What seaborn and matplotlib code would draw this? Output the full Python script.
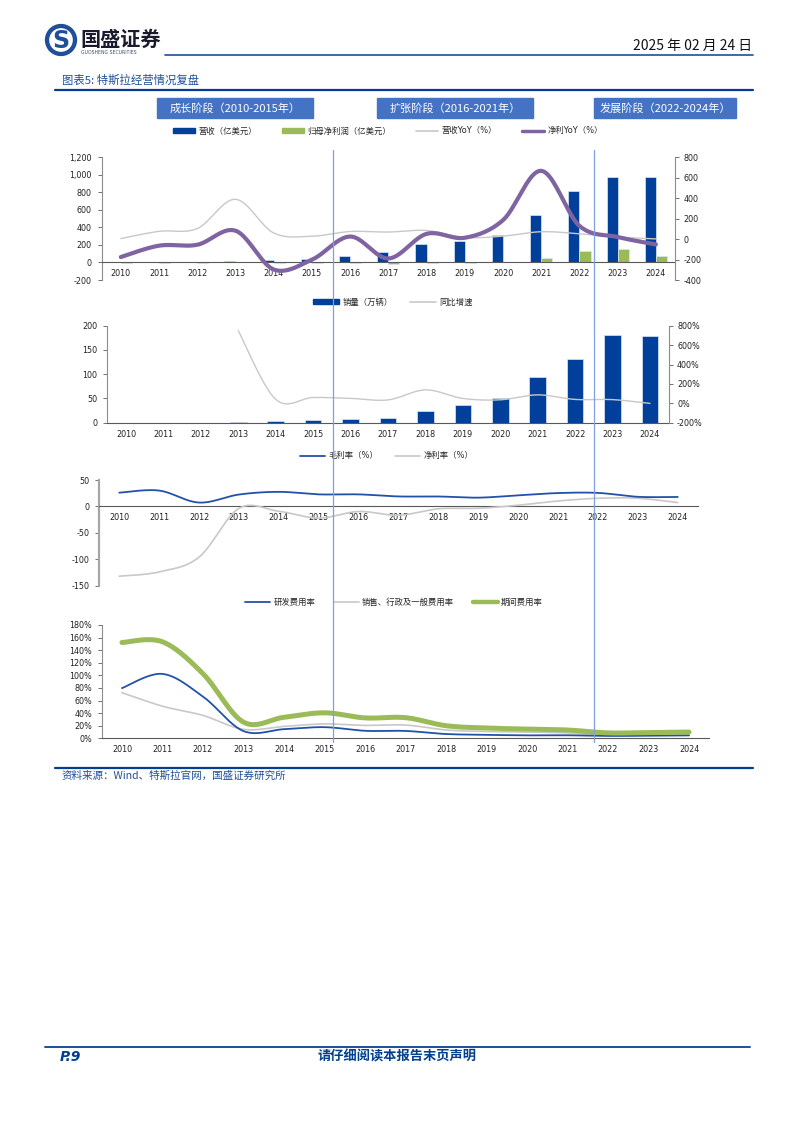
import numpy as np
import pandas as pd
import matplotlib
matplotlib.use('Agg')
import matplotlib.pyplot as plt
import seaborn as sns
from matplotlib.patches import Rectangle, Circle, Patch
from matplotlib.lines import Line2D

# Data
years = [str(y) for y in range(2010, 2025)]

revenue = [1.2, 2.0, 4.1, 20.1, 32.0, 40.5, 70.0, 117.6, 214.6, 245.8, 315.4, 538.2, 814.6, 967.7, 976.9]
net_profit = [-1.5, -2.5, -4.0, -0.7, -2.9, -8.9, -6.8, -19.6, -9.8, -8.6, 7.2, 55.2, 125.6, 150.0, 70.9]
revenue_yoy = [4, 75, 102, 387, 59, 27, 73, 68, 83, 15, 28, 71, 51, 19, 1]
profit_yoy = [-176, -65, -56, 81, -297, -202, 24, -190, 50, 12, 184, 665, 128, 19, -53]

sales = [np.nan, np.nan, 0.27, 2.25, 3.17, 5.06, 7.62, 10.30, 24.52, 36.75, 49.96, 93.62, 131.39, 180.86, 178.92]
sales_yoy = [np.nan, np.nan, np.nan, 748, 41, 60, 51, 35, 138, 50, 36, 87, 40, 38, -1]

gross_margin = [26.0, 30.0, 7.3, 22.5, 27.6, 22.8, 22.8, 18.9, 18.8, 16.6, 21.0, 25.3, 25.6, 18.2, 17.9]
net_margin = [-132, -124, -96, -3.7, -9.2, -22.0, -9.6, -16.7, -4.5, -3.5, 2.3, 10.3, 15.4, 15.5, 7.3]

rd_rate = [79.7, 102.3, 66.3, 11.5, 14.5, 17.7, 11.9, 11.7, 6.8, 5.5, 4.7, 4.8, 3.8, 4.1, 4.6]
sga_rate = [72.5, 51.0, 36.4, 14.2, 18.9, 22.8, 20.5, 21.1, 13.2, 10.8, 10.0, 8.4, 4.8, 5.0, 5.3]
period_rate = [152.2, 153.3, 102.7, 25.7, 33.4, 40.5, 32.4, 32.8, 20.0, 16.3, 14.7, 13.2, 8.6, 9.1, 9.9]

phases = ['成长阶段（2010-2015年）', '扩张阶段（2016-2021年）', '发展阶段（2022-2024年）']

# Colours
BLUE = '#00409A'
GREEN = '#9BBB59'
GRAY = '#C8C8C8'
PURPLE = '#8064A2'
LINE_BLUE = '#2152A8'
NAVY = '#1F4E9A'
AXIS = '#595959'

sns.set_theme(style='white')
plt.rcParams['font.family'] = ['DejaVu Sans', 'Noto Sans CJK SC']
plt.rcParams['axes.unicode_minus'] = False

W, H = 794, 1123


def rect(l, t, r, b):
    return [l / W, 1 - b / H, (r - l) / W, (b - t) / H]


def fx(x):
    return x / W


def fy(y):
    return 1 - y / H


def smooth(xs, ys, n=24):
    # Excel-style smoothed line: cubic Bezier through every point
    pts = np.column_stack([xs, ys]).astype(float)
    out = []
    for i in range(len(pts) - 1):
        p0 = pts[max(i - 1, 0)]
        p1 = pts[i]
        p2 = pts[i + 1]
        p3 = pts[min(i + 2, len(pts) - 1)]
        c1 = p1 + (p2 - p0) / 6
        c2 = p2 - (p3 - p1) / 6
        t = np.linspace(0, 1, n)[:, None]
        seg = (1 - t) ** 3 * p1 + 3 * (1 - t) ** 2 * t * c1 + 3 * (1 - t) * t ** 2 * c2 + t ** 3 * p2
        out.append(seg if i == 0 else seg[1:])
    arr = np.vstack(out)
    return arr[:, 0], arr[:, 1]


def draw_line(ax, values, color, lw, zorder=3):
    x = np.array([i for i, v in enumerate(values) if not np.isnan(v)])
    y = np.array([v for v in values if not np.isnan(v)])
    sx, sy = smooth(x, y)
    sns.lineplot(x=sx, y=sy, ax=ax, color=color, lw=lw, sort=False,
                 estimator=None, legend=False, zorder=zorder)


def style_x(ax, zero_spine=True):
    n = len(years)
    ax.set_xlim(-0.5, n - 0.5)
    ax.set_xticks(range(n))
    ax.set_xticklabels(years)
    ax.set_xticks(np.arange(-0.5, n), minor=True)
    ax.tick_params(axis='x', which='major', length=0, pad=5, labelsize=5.8, labelcolor='#222222')
    ax.tick_params(axis='x', which='minor', length=3, width=0.6, color=AXIS, direction='out')
    ax.set_xlabel('')
    if zero_spine:
        ax.spines['bottom'].set_position(('data', 0))
    ax.spines['bottom'].set_color(AXIS)
    ax.spines['bottom'].set_linewidth(0.8)
    ax.spines['top'].set_visible(False)
    ax.spines['right'].set_visible(False)


def style_left(ax, lw=0.8, color='#8C8C8C'):
    ax.spines['left'].set_color(color)
    ax.spines['left'].set_linewidth(lw)
    ax.tick_params(axis='y', which='major', left=True, length=3, width=0.6, color=AXIS,
                   direction='out', pad=4, labelsize=5.8, labelcolor='#222222')
    ax.set_ylabel('')


def style_right(ax):
    for s in ['top', 'left', 'bottom']:
        ax.spines[s].set_visible(False)
    ax.spines['right'].set_color('#8C8C8C')
    ax.spines['right'].set_linewidth(0.8)
    ax.tick_params(axis='y', which='major', right=True, length=3, width=0.6, color=AXIS,
                   direction='out', pad=3, labelsize=5.8, labelcolor='#222222')
    ax.set_ylabel('')
    ax.grid(False)


fig = plt.figure(figsize=(W / 100, H / 100), dpi=100)

# ---------------- Header ----------------
logo = fig.add_axes(rect(44, 23, 78, 57))
logo.set_xlim(-1.1, 1.1)
logo.set_ylim(-1.1, 1.1)
logo.set_aspect('equal')
logo.axis('off')
logo.add_patch(Circle((0, 0), 1.0, color=NAVY))
logo.add_patch(Circle((0, 0), 0.72, color='white'))
logo.text(0, -0.05, 'S', color=NAVY, fontsize=17, fontweight='bold', ha='center', va='center')

fig.text(fx(80), fy(39), '国盛证券', fontsize=14.5, fontweight='bold', color='#1A1A2E',
         family=['Noto Sans CJK SC'], va='center', ha='left')
fig.text(fx(81), fy(53), 'GUOSHENG SECURITIES', fontsize=3.3, color='#3A4A6A', va='center', ha='left')
fig.text(fx(752), fy(46), '2025 年 02 月 24 日', fontsize=10, color='#111111',
         family=['Noto Sans CJK SC'], ha='right', va='center')
fig.add_artist(Line2D([fx(165), fx(753)], [fy(55), fy(55)], color=NAVY, lw=1.2))

fig.text(fx(62), fy(80), '图表5: 特斯拉经营情况复盘', fontsize=8.2, color=NAVY, style='italic',
         family=['Noto Sans CJK SC', 'DejaVu Sans'], ha='left', va='center')
fig.add_artist(Line2D([fx(55), fx(753)], [fy(89.5), fy(89.5)], color='#003F8F', lw=1.6))

# phase boxes
for (l, r), label in zip([(157, 313), (377, 533), (594, 736)], phases):
    fig.add_artist(Rectangle((fx(l), fy(118)), fx(r) - fx(l), fy(98) - fy(118),
                             transform=fig.transFigure, color='#4472C4', zorder=5))
    fig.text(fx((l + r) / 2), fy(108), label, color='white', fontsize=8, ha='center', va='center',
             family=['Noto Sans CJK SC'], zorder=6)

# ---------------- Chart 1: revenue / net profit ----------------
ax1 = fig.add_axes(rect(101.7, 157, 675, 280))
df1 = pd.DataFrame({
    'year': years * 2,
    'series': ['营收（亿美元）'] * len(years) + ['归母净利润（亿美元）'] * len(years),
    'value': revenue + net_profit,
})
sns.barplot(data=df1, x='year', y='value', hue='series', order=years, palette=[BLUE, GREEN],
            width=0.58, saturation=1, edgecolor='#DDE6F3', linewidth=0.5, ax=ax1, legend=False)
ax1.set_ylim(-200, 1200)
ax1.set_yticks(range(-200, 1201, 200))
ax1.set_yticklabels([f'{v:,}' for v in range(-200, 1201, 200)])
style_x(ax1)
style_left(ax1)

ax1r = ax1.twinx()
draw_line(ax1r, revenue_yoy, GRAY, 1.0)
draw_line(ax1r, profit_yoy, PURPLE, 3.0)
ax1r.set_ylim(-400, 800)
ax1r.set_yticks(range(-400, 801, 200))
style_right(ax1r)

fig.legend(handles=[Patch(color=BLUE, label='营收（亿美元）'),
                    Patch(color=GREEN, label='归母净利润（亿美元）'),
                    Line2D([], [], color=GRAY, lw=1.2, label='营收YoY（%）'),
                    Line2D([], [], color=PURPLE, lw=2.5, label='净利YoY（%）')],
           loc='center', bbox_to_anchor=(fx(388), fy(131)), ncol=4, frameon=False,
           fontsize=6, handlelength=2.6, handleheight=0.6, handletextpad=0.45, columnspacing=3.0)

# ---------------- Chart 2: deliveries ----------------
ax2 = fig.add_axes(rect(107.3, 325.7, 668.7, 422.7))
sns.barplot(x=years, y=sales, order=years, color=BLUE, width=0.44, saturation=1,
            edgecolor='#DDE6F3', linewidth=0.5, ax=ax2)
ax2.set_ylim(0, 200)
ax2.set_yticks(range(0, 201, 50))
style_x(ax2, zero_spine=False)
style_left(ax2)

ax2r = ax2.twinx()
draw_line(ax2r, sales_yoy, GRAY, 1.0)
ax2r.set_ylim(-200, 800)
ax2r.set_yticks(range(-200, 801, 200))
ax2r.set_yticklabels([f'{v}%' for v in range(-200, 801, 200)])
style_right(ax2r)

fig.legend(handles=[Patch(color=BLUE, label='销量（万辆）'),
                    Line2D([], [], color=GRAY, lw=1.2, label='同比增速')],
           loc='center', bbox_to_anchor=(fx(393), fy(302)), ncol=2, frameon=False,
           fontsize=6, handlelength=3.2, handleheight=0.6, handletextpad=0.4, columnspacing=2.0)

# ---------------- Chart 3: margins ----------------
ax3 = fig.add_axes(rect(99.3, 480, 697.7, 585.7))
draw_line(ax3, net_margin, GRAY, 1.2)
draw_line(ax3, gross_margin, LINE_BLUE, 1.3)
ax3.set_ylim(-150, 50)
ax3.set_yticks(range(-150, 51, 50))
style_x(ax3)
style_left(ax3, lw=1.6, color='#A6A6A6')

fig.legend(handles=[Line2D([], [], color=LINE_BLUE, lw=1.3, label='毛利率（%）'),
                    Line2D([], [], color=GRAY, lw=1.2, label='净利率（%）')],
           loc='center', bbox_to_anchor=(fx(387), fy(456)), ncol=2, frameon=False,
           fontsize=6, handlelength=3.0, handletextpad=0.4, columnspacing=2.0)

# ---------------- Chart 4: expense ratios ----------------
ax4 = fig.add_axes(rect(101.7, 625, 709.3, 738.3))
draw_line(ax4, sga_rate, GRAY, 1.2)
draw_line(ax4, rd_rate, LINE_BLUE, 1.3)
draw_line(ax4, period_rate, GREEN, 3.6)
ax4.set_ylim(0, 180)
ax4.set_yticks(range(0, 181, 20))
ax4.set_yticklabels([f'{v}%' for v in range(0, 181, 20)])
style_x(ax4, zero_spine=False)
style_left(ax4)
ax4.tick_params(axis='x', which='minor', length=4)

fig.legend(handles=[Line2D([], [], color=LINE_BLUE, lw=1.3, label='研发费用率'),
                    Line2D([], [], color=GRAY, lw=1.2, label='销售、行政及一般费用率'),
                    Line2D([], [], color=GREEN, lw=3.2, label='期间费用率')],
           loc='center', bbox_to_anchor=(fx(394), fy(602)), ncol=3, frameon=False,
           fontsize=6, handlelength=3.0, handletextpad=0.4, columnspacing=2.2)

# phase dividers across the charts
for x in [332.5, 593.5]:
    fig.add_artist(Line2D([fx(x), fx(x)], [fy(150), fy(742)], color='#7F9FDF', lw=0.9, zorder=10))

# ---------------- Source & footer ----------------
fig.add_artist(Line2D([fx(55), fx(753)], [fy(768), fy(768)], color='#003F8F', lw=1.6))
fig.text(fx(62), fy(776), '资料来源：Wind、特斯拉官网，国盛证券研究所', fontsize=7.6, color=NAVY,
         style='italic', family=['Noto Sans CJK SC', 'DejaVu Sans'], ha='left', va='center')

fig.add_artist(Line2D([fx(45), fx(750)], [fy(1047), fy(1047)], color=NAVY, lw=1.4))
fig.text(fx(60), fy(1057), 'P.9', fontsize=10, color='#003F8F', fontweight='bold', style='italic',
         ha='left', va='center')
fig.text(fx(397), fy(1057), '请仔细阅读本报告末页声明', fontsize=9.5, color='#003F8F', fontweight='bold',
         family=['Noto Sans CJK SC'], ha='center', va='center')

fig.savefig('out.png', dpi=100)
